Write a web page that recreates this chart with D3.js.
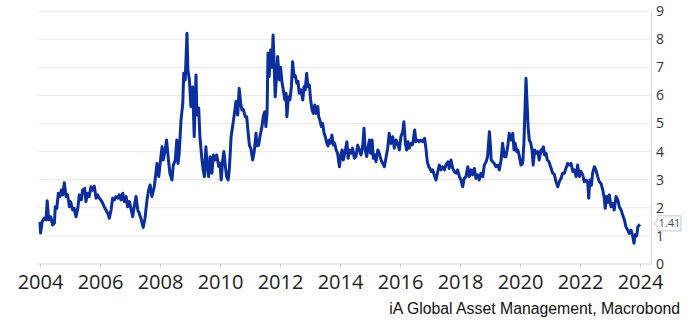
<!DOCTYPE html>
<html>
<head>
<meta charset="utf-8">
<script src="https://cdn.jsdelivr.net/npm/d3@7"></script>
<style>
  body { margin: 0; background: #fff; }
  svg { display: block; }
</style>
</head>
<body>
<svg id="chart"></svg>
<script>
// x tick labels (years) and y ticks
const xTicks = [2004, 2006, 2008, 2010, 2012, 2014, 2016, 2018, 2020, 2022, 2024];
const yTicks = [0, 1, 2, 3, 4, 5, 6, 7, 8, 9];

// series: decimal year, value
const years = [
  2004.00, 2004.02, 2004.07, 2004.14, 2004.20, 2004.24, 2004.29, 2004.36, 2004.42, 2004.48,
  2004.51, 2004.56, 2004.61, 2004.67, 2004.71, 2004.76, 2004.81, 2004.87, 2004.92, 2004.98,
  2005.02, 2005.09, 2005.14, 2005.20, 2005.26, 2005.31, 2005.38, 2005.42, 2005.49, 2005.53,
  2005.59, 2005.64, 2005.70, 2005.76, 2005.81, 2005.87, 2005.92, 2005.98, 2006.03, 2006.09,
  2006.14, 2006.20, 2006.26, 2006.31, 2006.37, 2006.42, 2006.48, 2006.53, 2006.59, 2006.64,
  2006.70, 2006.76, 2006.81, 2006.87, 2006.92, 2006.98, 2007.03, 2007.09, 2007.14, 2007.20,
  2007.26, 2007.31, 2007.37, 2007.44, 2007.50, 2007.57, 2007.62, 2007.67, 2007.73, 2007.81,
  2007.90, 2007.96, 2008.03, 2008.07, 2008.11, 2008.18, 2008.22, 2008.27, 2008.33, 2008.40,
  2008.44, 2008.51, 2008.56, 2008.60, 2008.64, 2008.70, 2008.76, 2008.79, 2008.84, 2008.90,
  2008.93, 2008.98, 2009.03, 2009.09, 2009.14, 2009.20, 2009.23, 2009.29, 2009.33, 2009.40,
  2009.44, 2009.48, 2009.53, 2009.57, 2009.62, 2009.67, 2009.73, 2009.78, 2009.84, 2009.89,
  2009.96, 2010.00, 2010.04, 2010.09, 2010.13, 2010.18, 2010.22, 2010.27, 2010.31, 2010.37,
  2010.42, 2010.48, 2010.53, 2010.59, 2010.64, 2010.69, 2010.73, 2010.78, 2010.84, 2010.89,
  2010.93, 2010.98, 2011.03, 2011.09, 2011.14, 2011.20, 2011.23, 2011.29, 2011.33, 2011.40,
  2011.44, 2011.49, 2011.53, 2011.57, 2011.60, 2011.64, 2011.69, 2011.73, 2011.77, 2011.81,
  2011.84, 2011.89, 2011.92, 2011.98, 2012.02, 2012.07, 2012.11, 2012.16, 2012.20, 2012.23,
  2012.28, 2012.33, 2012.38, 2012.42, 2012.47, 2012.51, 2012.56, 2012.60, 2012.64, 2012.70,
  2012.76, 2012.80, 2012.84, 2012.89, 2012.93, 2012.98, 2013.02, 2013.07, 2013.11, 2013.16,
  2013.20, 2013.26, 2013.29, 2013.33, 2013.38, 2013.42, 2013.47, 2013.51, 2013.56, 2013.60,
  2013.64, 2013.69, 2013.73, 2013.78, 2013.82, 2013.87, 2013.92, 2013.98, 2014.02, 2014.07,
  2014.11, 2014.16, 2014.23, 2014.27, 2014.31, 2014.37, 2014.42, 2014.48, 2014.53, 2014.59,
  2014.64, 2014.70, 2014.76, 2014.80, 2014.84, 2014.89, 2014.93, 2014.98, 2015.02, 2015.07,
  2015.11, 2015.16, 2015.20, 2015.26, 2015.31, 2015.37, 2015.42, 2015.48, 2015.53, 2015.59,
  2015.64, 2015.70, 2015.76, 2015.81, 2015.87, 2015.92, 2015.98, 2016.03, 2016.09, 2016.13,
  2016.18, 2016.22, 2016.27, 2016.31, 2016.37, 2016.42, 2016.49, 2016.53, 2016.59, 2016.64,
  2016.70, 2016.76, 2016.82, 2016.87, 2016.91, 2016.96, 2017.00, 2017.04, 2017.09, 2017.14,
  2017.20, 2017.26, 2017.31, 2017.37, 2017.42, 2017.48, 2017.53, 2017.60, 2017.64, 2017.70,
  2017.76, 2017.81, 2017.87, 2017.92, 2017.98, 2018.03, 2018.09, 2018.14, 2018.20, 2018.26,
  2018.31, 2018.37, 2018.42, 2018.48, 2018.53, 2018.59, 2018.64, 2018.70, 2018.76, 2018.81,
  2018.87, 2018.92, 2018.98, 2019.01, 2019.04, 2019.09, 2019.14, 2019.20, 2019.26, 2019.31,
  2019.37, 2019.42, 2019.48, 2019.53, 2019.59, 2019.64, 2019.70, 2019.76, 2019.80, 2019.84,
  2019.89, 2019.93, 2019.98, 2020.03, 2020.09, 2020.13, 2020.17, 2020.20, 2020.23, 2020.27,
  2020.31, 2020.36, 2020.40, 2020.44, 2020.49, 2020.53, 2020.59, 2020.64, 2020.70, 2020.73,
  2020.78, 2020.82, 2020.87, 2020.91, 2020.96, 2021.00, 2021.04, 2021.09, 2021.14, 2021.20,
  2021.26, 2021.31, 2021.37, 2021.42, 2021.48, 2021.53, 2021.59, 2021.64, 2021.70, 2021.76,
  2021.81, 2021.87, 2021.92, 2021.98, 2022.03, 2022.09, 2022.14, 2022.20, 2022.26, 2022.29,
  2022.33, 2022.38, 2022.42, 2022.48, 2022.53, 2022.59, 2022.64, 2022.70, 2022.76, 2022.81,
  2022.84, 2022.89, 2022.93, 2022.98, 2023.03, 2023.09, 2023.14, 2023.20, 2023.26, 2023.31,
  2023.37, 2023.42, 2023.48, 2023.53, 2023.59, 2023.64, 2023.70, 2023.76, 2023.80, 2023.84,
  2023.89, 2023.93, 2023.98, 2024.00
];
const values = [
  1.50, 1.10, 1.50, 1.63, 1.57, 2.25, 1.57, 1.68, 1.39, 1.45,
  2.04, 1.98, 2.52, 2.40, 2.63, 2.46, 2.89, 2.40, 2.46, 2.04,
  2.22, 1.92, 1.98, 1.68, 1.98, 2.46, 2.28, 2.63, 2.69, 2.22,
  2.52, 2.40, 2.75, 2.63, 2.77, 2.34, 2.46, 2.34, 2.28, 2.16,
  2.04, 1.92, 1.80, 1.63, 1.92, 2.34, 2.28, 2.40, 2.34, 2.46,
  2.28, 2.52, 2.22, 2.40, 2.04, 2.22, 1.98, 1.68, 2.04, 2.40,
  1.92, 1.80, 1.60, 1.30, 1.63, 2.30, 2.63, 2.81, 2.40, 2.75,
  3.58, 3.11, 3.82, 4.17, 3.70, 4.12, 4.41, 3.82, 3.23, 2.99,
  3.50, 3.70, 4.41, 3.58, 3.94, 5.12, 5.72, 6.79, 6.55, 8.21,
  6.90, 6.55, 5.60, 6.30, 4.53, 6.73, 5.30, 5.55, 4.53, 3.70,
  3.35, 3.11, 4.17, 3.50, 3.11, 3.82, 3.23, 3.88, 3.70, 3.88,
  3.47, 3.58, 2.99, 3.70, 4.00, 3.47, 3.11, 2.99, 3.35, 4.53,
  4.89, 5.35, 5.78, 5.30, 6.25, 5.72, 5.48, 5.50, 5.24, 5.24,
  4.77, 4.23, 4.10, 3.70, 4.00, 4.65, 4.20, 4.23, 4.53, 4.89,
  5.24, 5.42, 4.89, 5.42, 7.50, 6.67, 7.62, 7.00, 8.15, 6.90,
  5.95, 6.79, 7.38, 6.55, 7.00, 6.43, 6.20, 5.84, 6.08, 5.24,
  5.95, 5.84, 6.31, 7.20, 6.67, 6.70, 6.43, 6.50, 6.08, 6.20,
  5.84, 6.31, 6.20, 6.79, 6.31, 6.37, 5.84, 5.48, 5.36, 5.66,
  5.36, 5.60, 5.24, 5.12, 4.89, 5.00, 4.65, 4.53, 4.30, 4.20,
  4.41, 4.30, 4.59, 4.23, 4.30, 4.06, 3.94, 3.46, 3.82, 4.06,
  3.70, 3.94, 4.35, 3.76, 4.06, 3.94, 4.12, 3.76, 3.82, 4.23,
  4.06, 3.88, 4.23, 4.83, 4.06, 3.82, 4.12, 4.41, 3.94, 4.41,
  3.76, 3.88, 3.64, 4.06, 3.94, 3.70, 3.58, 3.46, 3.76, 4.12,
  4.65, 4.29, 4.53, 4.12, 4.41, 4.29, 4.06, 4.53, 4.71, 5.06,
  4.29, 4.06, 4.35, 4.12, 4.29, 4.25, 4.77, 4.35, 4.41, 4.35,
  4.41, 4.35, 4.47, 4.06, 3.64, 3.46, 3.40, 3.29, 3.35, 3.17,
  2.99, 3.29, 3.52, 3.35, 3.46, 3.35, 3.52, 3.64, 3.40, 3.70,
  3.40, 3.29, 3.23, 3.35, 3.11, 2.99, 2.75, 3.05, 3.11, 3.46,
  3.11, 3.35, 3.17, 3.40, 3.05, 3.17, 2.99, 3.23, 3.11, 3.52,
  3.64, 3.82, 4.71, 4.30, 3.70, 3.64, 3.58, 3.46, 3.52, 3.35,
  3.70, 4.30, 3.82, 3.82, 4.17, 4.65, 4.41, 4.65, 4.06, 4.30,
  4.00, 4.05, 3.82, 3.52, 3.58, 4.30, 5.60, 6.61, 5.84, 4.89,
  4.41, 4.30, 4.06, 3.52, 4.06, 3.94, 4.00, 3.70, 4.06, 4.00,
  4.17, 3.88, 3.94, 3.70, 3.65, 3.52, 3.40, 3.23, 3.20, 2.93,
  2.75, 2.93, 3.05, 3.23, 3.23, 3.40, 3.58, 3.52, 3.58, 3.29,
  3.35, 3.11, 3.52, 3.11, 3.29, 3.17, 2.93, 2.99, 2.87, 2.34,
  2.99, 2.80, 3.23, 3.46, 3.35, 3.11, 2.93, 2.87, 2.63, 2.34,
  1.98, 2.40, 2.20, 2.46, 2.04, 2.16, 1.92, 2.40, 2.28, 2.04,
  1.92, 1.75, 1.57, 1.33, 1.21, 1.09, 1.21, 0.98, 0.74, 1.04,
  1.00, 1.33, 1.39, 1.41
];
const lastLabel = "1.41";
const source = "iA Global Asset Management, Macrobond";

const width = 694, height = 320;
const svg = d3.select("#chart")
  .attr("width", width)
  .attr("height", height);

const x = d3.scaleLinear().domain([2004, 2024]).range([40, 640]);
const y = d3.scaleLinear().domain([0, 9]).range([264, 11.1]);
const left = 38, right = 651;

// gridlines
svg.append("g")
  .selectAll("line")
  .data(yTicks.filter(d => d > 0))
  .enter().append("line")
    .attr("x1", left)
    .attr("x2", right)
    .attr("y1", d => y(d))
    .attr("y2", d => y(d))
    .attr("stroke", "#e8e8e8")
    .attr("stroke-width", 1);

// right axis
const yAxis = svg.append("g")
  .attr("transform", `translate(${right},0)`)
  .call(d3.axisRight(y).tickValues(yTicks).tickSize(0).tickPadding(5));
yAxis.select(".domain").attr("stroke", "#d9d9d9");
yAxis.selectAll("text")
  .attr("fill", "#333")
  .style("font", "14px 'Open Sans'");

// bottom axis
const xAxis = svg.append("g")
  .attr("transform", `translate(0,${y(0)})`)
  .call(d3.axisBottom(x).tickValues(xTicks).tickFormat(d3.format("d")).tickSize(3).tickPadding(8));
xAxis.select(".domain").attr("d", `M${left},0H${right}`).attr("stroke", "#d0d0d0");
xAxis.selectAll(".tick line").attr("stroke", "#c8c8c8");
xAxis.selectAll("text")
  .attr("fill", "#222")
  .style("font", "20px 'Open Sans'");

// series line
const series = years.map((d, i) => ({ t: d, v: values[i] }));
svg.append("path")
  .datum(series)
  .attr("fill", "none")
  .attr("stroke", "#0a2e9e")
  .attr("stroke-width", 3)
  .attr("stroke-linejoin", "round")
  .attr("d", d3.line().x(d => x(d.t)).y(d => y(d.v)));

// last value tag
const last = series[series.length - 1];
const ty = y(last.v) - 1;
const tag = svg.append("g").attr("transform", `translate(654,${ty})`);
tag.append("path")
  .attr("d", "M0,0 L4,-3.5 L4,-7.5 L27,-7.5 L27,7.5 L4,7.5 L4,3.5 Z")
  .attr("fill", "#fff")
  .attr("stroke", "#b8c4dc")
  .attr("stroke-width", 1);
tag.append("text")
  .attr("x", 15.5)
  .attr("y", 0)
  .attr("dy", "0.35em")
  .attr("text-anchor", "middle")
  .attr("fill", "#3b4a6b")
  .style("font", "11px 'Open Sans'")
  .text(lastLabel);

// source
svg.append("text")
  .attr("x", 680)
  .attr("y", 314)
  .attr("text-anchor", "end")
  .attr("fill", "#111")
  .style("font", "15.8px 'Liberation Sans', Arial, sans-serif")
  .text(source);
</script>
</body>
</html>
